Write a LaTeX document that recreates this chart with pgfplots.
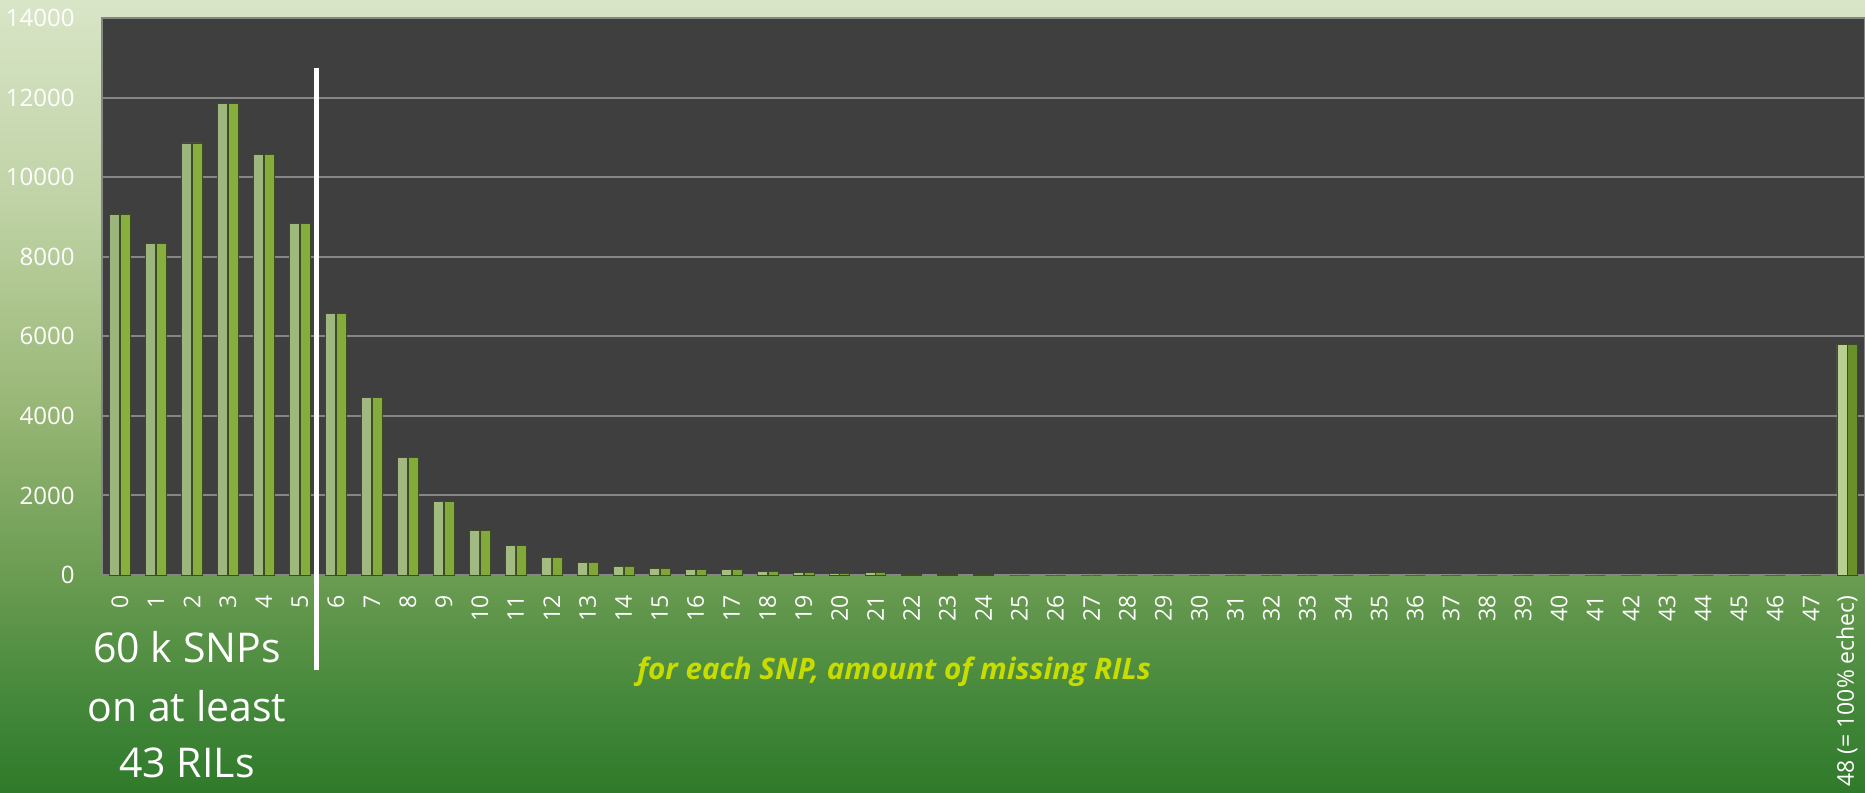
\documentclass[border=0pt]{standalone}
\usepackage{fontspec}
\setmainfont{Open Sans}
\usepackage{pgfplots}
\pgfplotsset{compat=1.18}
\definecolor{c0}{HTML}{2F7A2A}
\definecolor{c1}{HTML}{45883B}
\definecolor{c2}{HTML}{6B9C52}
\definecolor{c3}{HTML}{9AB877}
\definecolor{c4}{HTML}{C0D3A6}
\definecolor{c5}{HTML}{D9E5C7}
\definecolor{plotbg}{HTML}{3F3F3F}
\definecolor{gridc}{HTML}{868686}
\definecolor{lab}{RGB}{200,220,0}
\definecolor{lightA}{HTML}{9CB57C}
\definecolor{lightB}{HTML}{B8CF92}
\definecolor{darkA}{HTML}{88B03E}
\definecolor{darkB}{HTML}{6A9029}
\definecolor{barline}{HTML}{3E4A28}
\pgfdeclareverticalshading{bgshade}{100bp}{color(0bp)=(c0); color(25bp)=(c0); color(30.85bp)=(c1); color(38.75bp)=(c2); color(49.8bp)=(c3); color(62.4bp)=(c4); color(75bp)=(c5); color(100bp)=(c5)}
\pgfplotstableread{
x y
0 9060
1 8330
2 10860
3 11850
4 10570
5 8840
6 6575
7 4465
8 2960
9 1840
10 1115
11 740
12 445
13 320
14 220
15 170
16 140
17 140
18 95
19 70
20 45
21 70
22 25
23 25
24 15
25 0
26 0
27 0
28 0
29 0
30 0
31 0
32 0
33 0
34 0
35 0
36 0
37 0
38 0
39 0
40 0
41 0
42 0
43 0
44 0
45 0
46 0
47 0
48 5800
}\datatable
\begin{document}
\begin{tikzpicture}
\useasboundingbox (0,0) rectangle (932.5pt,396.5pt);
\shade[shading=bgshade] (0,0) rectangle (932.5pt,396.5pt);
\begin{axis}[
  at={(51pt,109pt)}, anchor=south west,
  width=881.5pt, height=278.5pt, scale only axis,
  xmin=-0.5, xmax=48.5, ymin=0, ymax=14000,
  axis background/.style={fill=plotbg},
  axis line style={draw=gridc, line width=1pt},
  ytick={0,2000,...,14000},
  scaled y ticks=false,
  yticklabel={\pgfmathprintnumber[fixed,precision=0,1000 sep={}]{\tick}},
  ymajorgrids, grid style={draw=gridc, line width=1pt},
  major tick length=0pt,
  xtick={0,...,48},
  xticklabels={0,1,2,3,4,5,6,7,8,9,10,11,12,13,14,15,16,17,18,19,20,21,22,23,24,25,26,27,28,29,30,31,32,33,34,35,36,37,38,39,40,41,42,43,44,45,46,47,{48 (= 100\% echec)}},
  /pgf/number format/assume math mode=true,
  /pgf/number format/1000 sep={},
  yticklabel style={font=\fontsize{12}{14}\selectfont, text=white, anchor=east, inner xsep=13.5pt},
  xticklabel style={font=\fontsize{11.5}{13}\selectfont, text=white, rotate=90, anchor=east, inner xsep=10pt, inner ysep=0pt},
  clip=false,
]
\addplot[ybar, bar width=5pt, bar shift=-2.6pt, draw=barline, line width=0.3pt, left color=lightA, right color=lightB] table[x=x,y=y] {\datatable};
\addplot[ybar, bar width=5pt, bar shift=2.6pt, draw=barline, line width=0.3pt, left color=darkA, right color=darkB] table[x=x,y=y] {\datatable};
\draw[white, line width=2.5pt] (axis cs:5.45,12750) -- (axis cs:5.45,-2390);
\end{axis}
\node[anchor=base, text=white, font=\fontsize{20.5}{24}\selectfont] at (93.5pt,65pt) {60 k SNPs};
\node[anchor=base, text=white, font=\fontsize{20.5}{24}\selectfont] at (93.5pt,35.5pt) {on at least};
\node[anchor=base, text=white, font=\fontsize{20.5}{24}\selectfont] at (93.5pt,7.5pt) {43 RILs};
\node[anchor=base, text=lab, font=\fontsize{14.8}{17}\selectfont\bfseries\itshape] at (447pt,56.5pt) {for each SNP, amount of missing RILs};
\end{tikzpicture}
\end{document}
